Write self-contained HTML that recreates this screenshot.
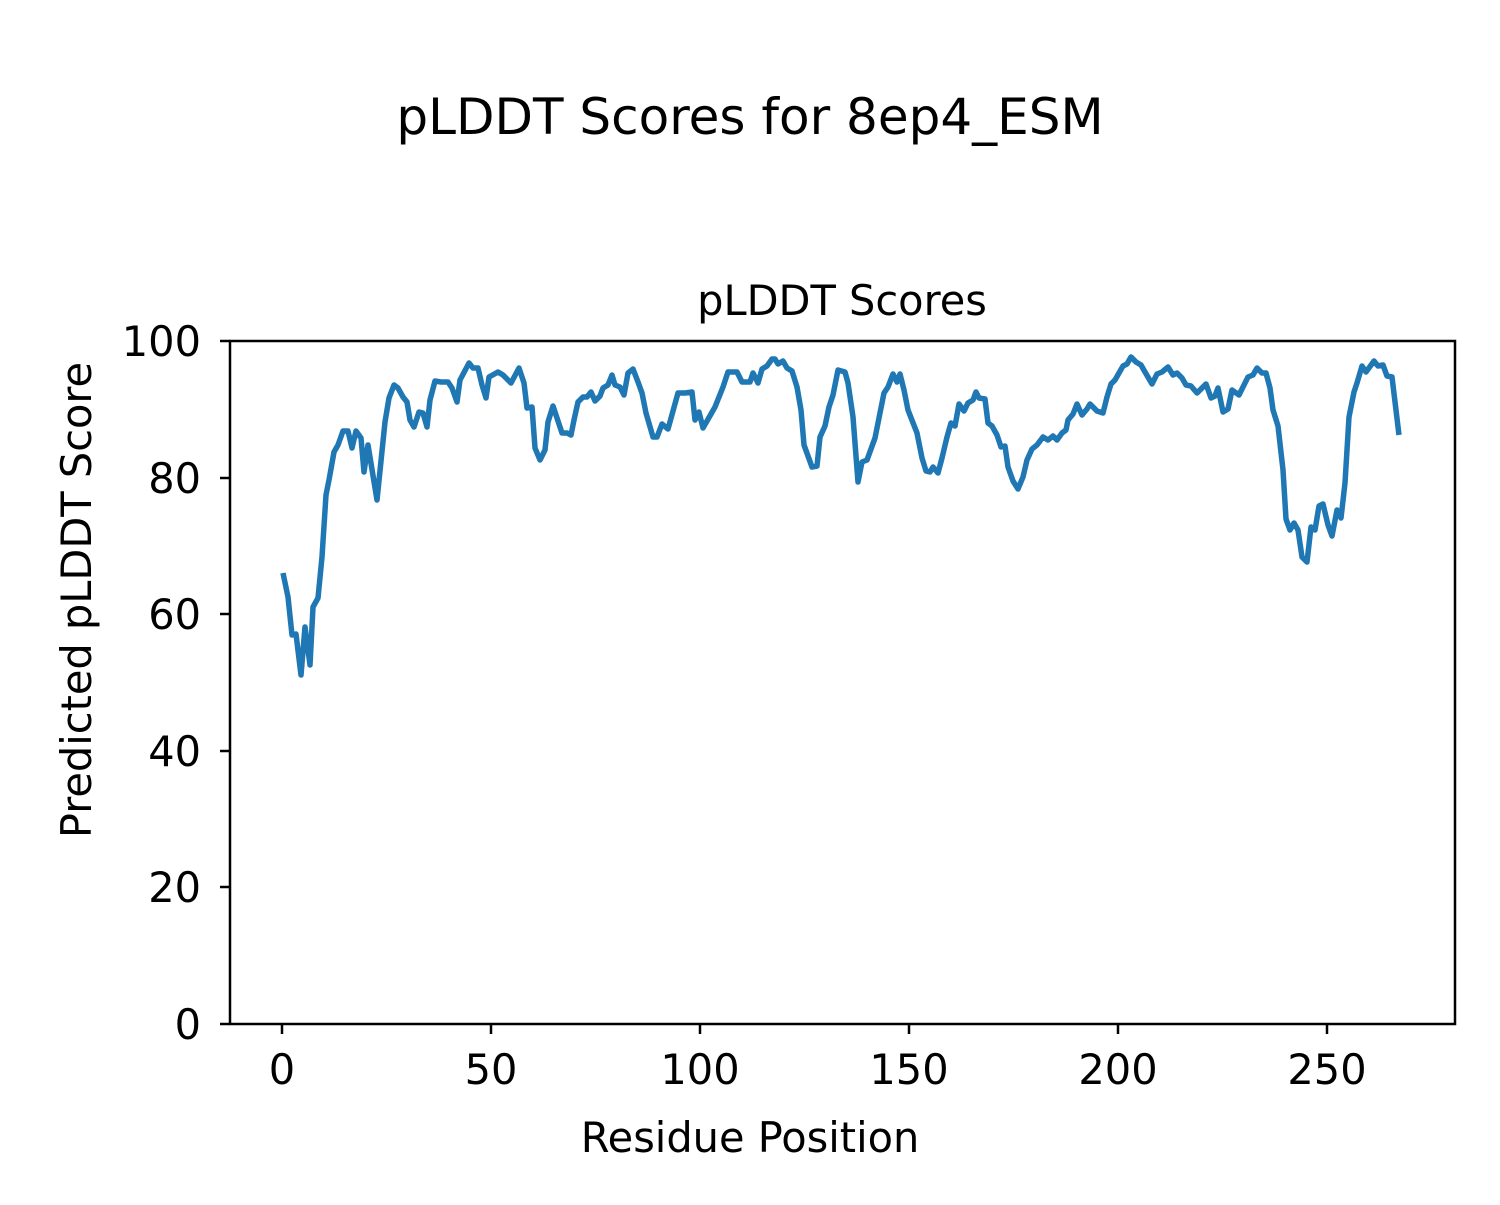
<!DOCTYPE html>
<html><head><style>body{margin:0;background:#fff}</style></head><body>
<svg width="1500" height="1200" xmlns="http://www.w3.org/2000/svg" font-family="'DejaVu Sans','Liberation Sans',sans-serif" fill="#000">
<rect width="1500" height="1200" fill="#fff"/>
<text x="750" y="134" font-size="50" text-anchor="middle">pLDDT Scores for 8ep4_ESM</text>
<text x="842" y="315" font-size="41.5" text-anchor="middle">pLDDT Scores</text>
<polyline fill="none" stroke="#1f77b4" stroke-width="5.5" stroke-linejoin="round" points="283,573 288,597 292,635 296,634 301,675 305,627 310,665 313,607 318,598 322,557 326,495 329,480 334,452 338,445 343,431 348,431 352,448 356,431 361,438 364,472 368,445 377,500 385,422 389,398 394,385 398,388 403,397 407,402 410,420 414,427 419,412 423,413 427,427 430,400 435,381 441,382 448,382 452,388 457,402 460,380 469,363 473,368 478,368 482,385 486,398 489,377 498,372 503,375 511,383 519,368 524,383 527,408 532,407 535,448 540,460 545,450 548,422 553,406 562,433 567,433 571,435 574,420 578,402 583,397 587,397 591,392 595,401 600,396 603,388 608,385 612,375 615,385 620,387 624,395 628,373 633,369 638,382 642,393 646,413 653,437 657,437 662,424 668,429 678,393 685,393 692,392 695,420 699,412 703,428 715,407 723,387 728,372 737,372 742,382 750,382 753,373 758,383 762,369 767,366 772,359 775,359 778,364 783,361 787,368 792,371 797,387 801,410 804,445 812,467 817,466 820,437 825,426 829,407 833,395 838,370 845,372 848,383 853,417 858,482 862,462 867,460 875,438 880,413 884,393 888,387 893,374 897,382 900,374 904,390 908,410 917,433 922,458 926,471 930,472 933,467 938,473 942,458 947,437 951,423 955,426 959,404 964,411 968,403 973,400 976,392 979,398 985,399 988,423 992,426 997,435 1001,447 1005,446 1008,467 1013,481 1018,489 1023,477 1027,460 1032,449 1037,445 1043,437 1048,440 1053,436 1057,440 1062,433 1066,430 1068,420 1073,414 1077,404 1082,415 1087,409 1090,404 1097,411 1103,413 1107,397 1111,384 1115,380 1123,366 1127,364 1131,357 1136,362 1141,365 1145,372 1152,384 1157,374 1162,372 1168,367 1173,375 1177,373 1182,378 1186,385 1191,386 1197,393 1206,384 1211,398 1215,396 1218,388 1223,412 1228,409 1232,390 1239,395 1248,377 1253,375 1257,368 1262,373 1266,373 1270,388 1273,410 1278,426 1283,470 1286,519 1290,530 1294,523 1298,530 1302,557 1307,562 1311,527 1315,530 1319,506 1323,504 1328,525 1332,536 1337,510 1341,518 1345,483 1349,417 1354,392 1357,383 1362,366 1366,372 1374,361 1378,366 1383,365 1387,376 1392,377 1399,435"/>
<rect x="230" y="341" width="1225" height="683" fill="none" stroke="#000" stroke-width="2.5"/>
<g stroke="#000" stroke-width="2.5">
<line x1="282" y1="1024" x2="282" y2="1034"/><line x1="491" y1="1024" x2="491" y2="1034"/><line x1="700" y1="1024" x2="700" y2="1034"/><line x1="909" y1="1024" x2="909" y2="1034"/><line x1="1118" y1="1024" x2="1118" y2="1034"/><line x1="1327" y1="1024" x2="1327" y2="1034"/>
<line x1="220" y1="1024" x2="230" y2="1024"/><line x1="220" y1="887" x2="230" y2="887"/><line x1="220" y1="751" x2="230" y2="751"/><line x1="220" y1="614" x2="230" y2="614"/><line x1="220" y1="478" x2="230" y2="478"/><line x1="220" y1="341" x2="230" y2="341"/>
</g>
<g font-size="41.5" text-anchor="middle">
<text x="282" y="1084">0</text><text x="491" y="1084">50</text><text x="700" y="1084">100</text><text x="909" y="1084">150</text><text x="1118" y="1084">200</text><text x="1327" y="1084">250</text>
</g>
<g font-size="41.5" text-anchor="end">
<text x="201" y="1039">0</text><text x="201" y="902">20</text><text x="201" y="766">40</text><text x="201" y="629">60</text><text x="201" y="493">80</text><text x="201" y="356">100</text>
</g>
<text x="750" y="1152" font-size="41.5" text-anchor="middle">Residue Position</text>
<text transform="translate(91,600) rotate(-90)" font-size="41.5" text-anchor="middle">Predicted pLDDT Score</text>
</svg>
</body></html>
